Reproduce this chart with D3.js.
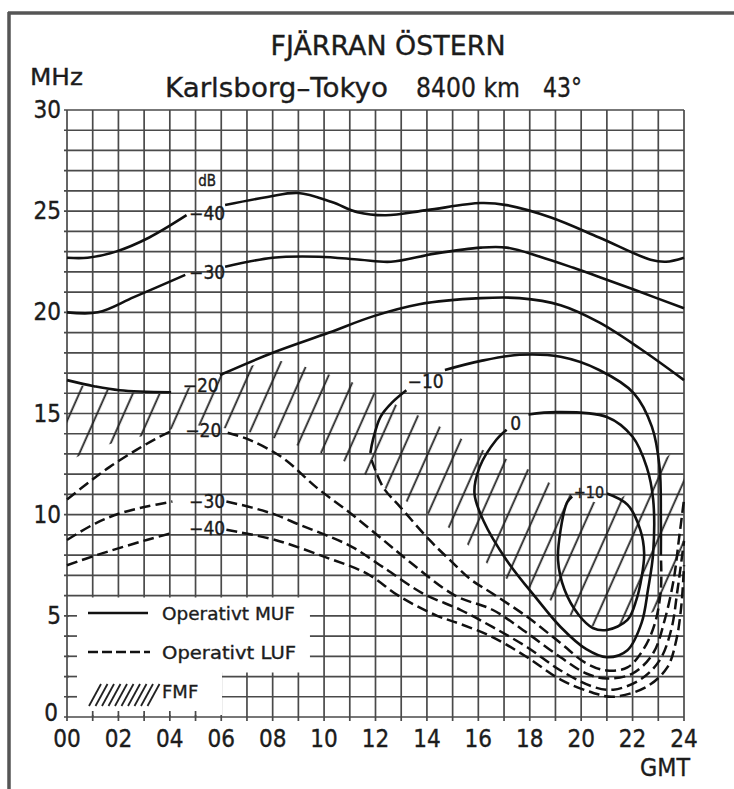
<!DOCTYPE html>
<html>
<head>
<meta charset="utf-8">
<script src="https://cdn.jsdelivr.net/npm/d3@7"></script>
<style>
  body { margin: 0; background: #fff; }
  text { font-family: "DejaVu Sans Condensed", Roboto, sans-serif; fill: #1c1c1c;
         stroke: #1c1c1c; stroke-width: 0.35; }
  text.wide { font-family: "DejaVu Sans", Roboto, sans-serif; }
</style>
</head>
<body>
<svg id="chart" width="734" height="789"></svg>
<script>
// Karlsborg - Tokyo propagation chart (MUF / LUF contours in dB, FMF band)

const hourTicks = ["00","02","04","06","08","10","12","14","16","18","20","22","24"];
const mhzTicks = [0, 5, 10, 15, 20, 25, 30];

// [GMT hour, MHz] -- solid curves (operativt MUF), split where the dB label sits
const mufM40a = [[0,22.7],[0.8,22.7],[1.9,23.0],[3.2,23.7],[4.65,24.8]];
const mufM40b = [[6.15,25.3],[7.8,25.7],[9.0,25.9],[10.3,25.45],[11.3,24.95],[12.4,24.8],[14.0,25.05],[16.1,25.4],[17.1,25.3],[18.8,24.7],[20.7,23.7],[22.7,22.6],[23.3,22.5],[24,22.7]];
const mufM30a = [[0,20.0],[1.2,20.0],[2.6,20.75],[4.6,21.85]];
const mufM30b = [[6.15,22.25],[8.0,22.7],[9.8,22.75],[11.4,22.6],[12.6,22.5],[14.3,22.9],[16.1,23.2],[17.1,23.2],[18.4,22.75],[19.7,22.2],[20.7,21.75],[22.1,21.1],[24,20.2]];
const mufM20a = [[0,16.65],[1.05,16.35],[2.05,16.15],[4.05,16.05]];
const mufM20b = [[5.95,16.9],[8.0,18.0],[10.2,19.0],[11.9,19.8],[13.7,20.4],[16.1,20.7],[17.6,20.7],[19.2,20.35],[20.7,19.5],[22.3,18.2],[24,16.65]];
const mufM10a = [[11.8,13.05],[11.9,13.7],[12.2,14.85],[12.65,15.55],[13.2,16.15]];
const mufM10b = [[14.7,17.15],[16.1,17.6],[17.6,17.9],[19.2,17.8],[20.7,17.15],[22.05,16.0],[22.75,14.35],[23.05,12.35],[23.1,9.75],[23.1,8.0]];
const muf0 = [[17.95,14.95],[19.05,15.07],[21.0,14.83],[22.0,13.85],[22.55,12.35],[22.8,10.75],[22.8,8.1],[22.6,6.3],[22.35,4.65],[21.8,3.3],[21.0,2.95],[20.2,3.35],[19.2,4.45],[18.3,5.8],[17.1,7.75],[16.2,9.7],[15.85,11.05],[16.05,12.35],[16.7,13.7],[17.1,14.2]];
const mufP10 = [[21.0,11.05],[21.8,10.5],[22.3,9.25],[22.45,8.1],[22.35,6.9],[22.15,5.8],[21.8,4.8],[21.0,4.3],[20.45,4.4],[19.9,5.05],[19.35,6.3],[19.1,7.75],[19.2,9.25],[19.45,10.6],[19.65,10.9]];

// dashed curves (operativt LUF)
const lufM10 = [[11.85,12.7],[12.3,11.35],[12.95,10.4],[14.1,8.75],[14.9,7.75],[15.7,6.8],[16.55,6.1],[17.9,4.95],[19.2,3.65],[20.2,2.65],[21.0,2.3],[21.8,2.45],[22.4,3.3],[22.85,4.55],[23.1,6.3],[23.1,8.0]];
const lufM20a = [[0,10.75],[0.8,11.55],[1.65,12.35],[2.7,13.2],[3.6,13.85],[4.0,14.1]];
const lufM20b = [[6.25,14.05],[7.1,13.7],[8.4,12.8],[9.7,11.35],[11.0,10.1],[12.3,8.75],[13.35,7.65],[15.1,6.0],[16.55,5.3],[17.9,4.15],[19.2,2.95],[20.2,2.15],[21.0,1.9],[22.0,2.15],[22.8,3.15],[23.25,4.8],[23.6,6.8],[23.8,8.75],[24,10.75]];
const lufM30a = [[0,8.75],[1.15,9.6],[2.15,10.1],[3.1,10.4],[4.1,10.65]];
const lufM30b = [[6.2,10.65],[7.2,10.35],[8.1,10.0],[9.05,9.5],[10.05,9.0],[11.1,8.4],[12.3,7.4],[13.85,6.1],[15.3,5.3],[16.55,4.45],[17.9,3.45],[19.2,2.3],[20.45,1.5],[21.25,1.35],[22.3,1.85],[23.05,2.8],[23.5,4.3],[23.75,6.3],[24,8.7]];
const lufM40a = [[0,7.5],[1.15,8.0],[3.1,8.75],[4.1,9.1]];
const lufM40b = [[6.2,9.25],[8.1,8.75],[10.05,7.9],[11.65,7.1],[12.95,5.95],[14.4,5.0],[15.3,4.6],[16.55,3.95],[17.9,2.95],[19.2,1.85],[20.45,1.2],[21.25,1.0],[22.55,1.5],[23.35,2.45],[23.7,3.8],[23.9,5.55],[24,7.5]];

// FMF band (hatched)
const fmfHours  = [0,1,2,3,4,5,6,7,8,9,10,11,12,13,14,15,16,17,18,19,20,21,22,23,24];
const fmfTop    = [16.5,16.3,16.1,16.0,16.0,16.4,16.9,17.3,17.6,17.4,17.0,16.6,16.0,15.3,14.7,14.0,13.3,12.8,12.2,11.4,10.8,10.6,11.2,12.5,13.5];
const fmfBottom = [12.6,13.2,13.6,13.9,14.2,14.4,14.3,14.1,13.8,13.4,13.0,12.5,11.6,10.8,10.1,9.2,8.0,6.9,6.4,5.6,4.7,4.4,4.8,5.3,6.0];

// contour labels
const dbLabels = [
  { t: "dB",  h: 5.45, f: 26.5, s: 15 },
  { t: "\u221240", h: 5.45, f: 24.9, s: 19 },
  { t: "\u221230", h: 5.45, f: 22.0, s: 19 },
  { t: "\u221220", h: 5.2,  f: 16.4, s: 19 },
  { t: "\u221220", h: 5.3,  f: 14.2, s: 19 },
  { t: "\u221230", h: 5.45, f: 10.65, s: 19 },
  { t: "\u221240", h: 5.45, f: 9.35, s: 19 },
  { t: "\u221210", h: 13.95, f: 16.6, s: 19 },
  { t: "0",   h: 17.45, f: 14.5, s: 19 },
  { t: "+10", h: 20.3, f: 11.1, s: 16 }
];

const svg = d3.select("#chart");
const x = d3.scaleLinear().domain([0, 24]).range([67, 684]);
const y = d3.scaleLinear().domain([0, 30]).range([717, 110]);

// page frame
svg.append("line").attr("x1", 8).attr("x2", 734).attr("y1", 13).attr("y2", 13)
   .attr("stroke", "#555").attr("stroke-width", 3.5);
svg.append("line").attr("x1", 9).attr("x2", 9).attr("y1", 12).attr("y2", 789)
   .attr("stroke", "#555").attr("stroke-width", 3.5);

// titles
svg.append("text").attr("class", "wide").attr("x", 388).attr("y", 55).attr("text-anchor", "middle")
   .attr("font-size", 26).attr("textLength", 235).attr("lengthAdjust", "spacingAndGlyphs")
   .text("FJÄRRAN ÖSTERN");
svg.append("text").attr("class", "wide").attr("x", 165).attr("y", 97).attr("font-size", 26)
   .attr("textLength", 223).attr("lengthAdjust", "spacingAndGlyphs").text("Karlsborg\u2013Tokyo");
svg.append("text").attr("class", "wide").attr("x", 416).attr("y", 97).attr("font-size", 26)
   .attr("textLength", 104).attr("lengthAdjust", "spacingAndGlyphs").text("8400 km");
svg.append("text").attr("class", "wide").attr("x", 543).attr("y", 97).attr("font-size", 26)
   .attr("textLength", 39).attr("lengthAdjust", "spacingAndGlyphs").text("43°");
svg.append("text").attr("class", "wide").attr("x", 30).attr("y", 85).attr("font-size", 23)
   .attr("textLength", 53).attr("lengthAdjust", "spacingAndGlyphs").text("MHz");

// grid, one line per hour and per MHz
const grid = svg.append("g").attr("stroke", "#4a4a4a").attr("stroke-width", 1.7);
grid.selectAll("line.v").data(d3.range(0, 25)).enter().append("line")
    .attr("x1", d => x(d)).attr("x2", d => x(d)).attr("y1", y(30)).attr("y2", y(0) + 4);
grid.selectAll("line.h").data(d3.range(0, 31)).enter().append("line")
    .attr("x1", x(0) - 3).attr("x2", x(24)).attr("y1", d => y(d)).attr("y2", d => y(d));

// blank patch behind the legend (grid is cut away there)
svg.append("path")
   .attr("d", d3.line()([
     [x(0) + 2, y(5.9)], [x(9.45), y(5.9)], [x(9.45), y(2.2)], [x(6.03), y(2.2)],
     [x(6.03), y(0) - 2], [x(0) + 2, y(0) - 2]
   ]) + "Z")
   .attr("fill", "#fff");
// small stubs left on the axes inside the blank patch
const stubs = svg.append("g").attr("stroke", "#4a4a4a").attr("stroke-width", 1.7);
stubs.selectAll("line.s1").data(d3.range(1, 6)).enter().append("line")
     .attr("x1", x(0)).attr("x2", x(0) + 10).attr("y1", d => y(d)).attr("y2", d => y(d));
stubs.selectAll("line.s2").data(d3.range(1, 6)).enter().append("line")
     .attr("x1", d => x(d)).attr("x2", d => x(d)).attr("y1", y(0)).attr("y2", y(0) - 6);

// hatch pattern for FMF
const defs = svg.append("defs");
defs.append("pattern").attr("id", "fmf").attr("patternUnits", "userSpaceOnUse")
    .attr("width", 24.5).attr("height", 40).attr("patternTransform", "rotate(24)")
  .append("line").attr("x1", 12).attr("x2", 12).attr("y1", 0).attr("y2", 40)
    .attr("stroke", "#222").attr("stroke-width", 1.8);

const fmfRows = fmfHours.map((h, i) => ({ h, lo: fmfBottom[i], hi: fmfTop[i] }));
svg.append("path")
   .datum(fmfRows)
   .attr("fill", "url(#fmf)")
   .attr("d", d3.area().x(d => x(d.h)).y0(d => y(d.lo)).y1(d => y(d.hi)).curve(d3.curveCatmullRom));

// curves
const line = d3.line().x(d => x(d[0])).y(d => y(d[1])).curve(d3.curveCatmullRom.alpha(0.5));

const solid = [mufM40a, mufM40b, mufM30a, mufM30b, mufM20a, mufM20b, mufM10a, mufM10b, muf0, mufP10];
const dashed = [lufM10, lufM20a, lufM20b, lufM30a, lufM30b, lufM40a, lufM40b];

svg.append("g").selectAll("path").data(solid).enter().append("path")
   .attr("d", line).attr("fill", "none").attr("stroke", "#111").attr("stroke-width", 2.6);
svg.append("g").selectAll("path").data(dashed).enter().append("path")
   .attr("d", line).attr("fill", "none").attr("stroke", "#111").attr("stroke-width", 2.5)
   .attr("stroke-dasharray", "11,5");

// dB labels on the curves
svg.append("g").selectAll("text").data(dbLabels).enter().append("text")
   .attr("x", d => x(d.h)).attr("y", d => y(d.f) + d.s * 0.36)
   .attr("text-anchor", "middle").attr("font-size", d => d.s)
   .text(d => d.t);

// axis labels
svg.append("g").selectAll("text").data(mhzTicks).enter().append("text")
   .attr("x", d => d === 0 ? 58 : 61).attr("y", d => d === 0 ? y(d) + 4 : y(d) + 8)
   .attr("text-anchor", "end").attr("font-size", 24).text(d => d);
svg.append("g").selectAll("text").data(hourTicks).enter().append("text")
   .attr("x", d => x(+d)).attr("y", 747).attr("text-anchor", "middle")
   .attr("font-size", 24).text(d => d);
svg.append("text").attr("class", "wide").attr("x", 690).attr("y", 776).attr("text-anchor", "end")
   .attr("font-size", 24).attr("textLength", 50).attr("lengthAdjust", "spacingAndGlyphs").text("GMT");

// legend
const lg = svg.append("g");
lg.append("line").attr("x1", 88).attr("x2", 148).attr("y1", 613).attr("y2", 613)
  .attr("stroke", "#111").attr("stroke-width", 2.4);
lg.append("line").attr("x1", 88).attr("x2", 150).attr("y1", 652).attr("y2", 652)
  .attr("stroke", "#111").attr("stroke-width", 2.4).attr("stroke-dasharray", "10,4");
lg.selectAll("line.hs").data(d3.range(0, 10)).enter().append("line")
  .attr("x1", i => 89 + i * 6.5).attr("x2", i => 101 + i * 6.5)
  .attr("y1", 706).attr("y2", 684)
  .attr("stroke", "#222").attr("stroke-width", 1.8);
lg.append("text").attr("class", "wide").attr("x", 162).attr("y", 620).attr("font-size", 18)
  .attr("textLength", 133).attr("lengthAdjust", "spacingAndGlyphs").text("Operativt MUF");
lg.append("text").attr("class", "wide").attr("x", 162).attr("y", 659).attr("font-size", 18)
  .attr("textLength", 134).attr("lengthAdjust", "spacingAndGlyphs").text("Operativt LUF");
lg.append("text").attr("class", "wide").attr("x", 162).attr("y", 698).attr("font-size", 18)
  .text("FMF");
</script>
</body>
</html>
